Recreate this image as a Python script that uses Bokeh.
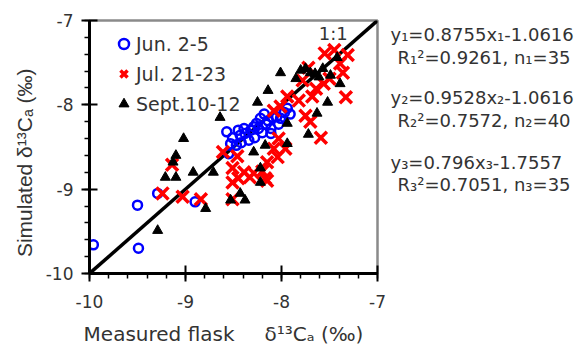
from bokeh.plotting import figure
from bokeh.models import Label, Legend, LegendItem, FixedTicker, Range1d, ColumnDataSource
from bokeh.layouts import row
from bokeh.core.properties import value
from bokeh.embed import file_html
from bokeh.resources import INLINE

# Jun. 2-5 (blue open circles)
jun_x = [-9.96, -9.50, -9.49, -9.29, -8.90,
         -8.57, -8.51, -8.43, -8.38, -8.32, -8.29, -8.26, -8.22, -8.18, -8.24,
         -8.20, -8.34, -8.42, -8.47, -8.14, -8.09, -8.05, -8.01, -7.97, -7.94,
         -7.91, -8.11, -8.16, -8.28, -8.39, -8.45, -8.53, -8.55, -8.11, -8.03]
jun_y = [-9.66, -9.19, -9.70, -9.05, -9.15,
         -8.32, -8.39, -8.36, -8.34, -8.30, -8.26, -8.22, -8.16, -8.11, -8.28,
         -8.33, -8.42, -8.45, -8.48, -8.19, -8.15, -8.14, -8.16, -8.09, -8.04,
         -8.11, -8.28, -8.23, -8.39, -8.28, -8.30, -8.46, -8.58, -8.34, -8.23]

# Jul. 21-23 (red crosses)
jul_x = [-7.55, -7.45, -7.31, -7.39, -7.36, -7.33, -7.56, -7.64, -7.50, -7.72,
         -7.78, -7.68, -7.82, -7.94, -8.01, -8.08, -7.75, -7.70, -7.59, -8.03,
         -8.08, -8.04, -8.15, -8.20, -8.29, -8.39, -8.51, -8.61, -8.46, -8.51,
         -8.15, -8.51, -8.84, -9.03, -9.24, -9.14, -8.45, -8.33, -8.17, -7.96]
jul_y = [-7.39, -7.35, -7.41, -7.51, -7.62, -7.91, -7.75, -7.81, -7.69, -7.56,
         -7.71, -7.90, -7.95, -7.90, -8.02, -8.07, -8.13, -8.20, -8.39, -8.40,
         -8.52, -8.62, -8.68, -8.79, -8.81, -8.80, -8.75, -8.56, -8.61, -8.92,
         -8.90, -9.12, -9.12, -9.09, -9.05, -8.71, -8.87, -8.86, -8.87, -8.52]

# Sept. 10-12 (black triangles)
sep_x = [-9.29, -9.21, -9.10, -9.13, -9.10, -9.02, -8.92, -8.79, -8.71, -8.64,
         -8.53, -8.43, -8.38, -8.29, -8.25, -8.22, -8.22, -8.17, -8.14, -8.01,
         -7.94, -7.94, -7.85, -7.75, -7.70, -7.65, -7.61, -7.63, -7.52, -7.49,
         -7.42, -7.39, -7.57, -7.80, -7.72]
sep_y = [-9.49, -8.86, -8.86, -8.68, -8.60, -8.40, -8.80, -9.23, -8.80, -8.15,
         -9.13, -9.05, -9.13, -8.56, -7.97, -8.75, -8.92, -8.48, -7.83, -7.62,
         -8.22, -8.46, -7.69, -7.57, -7.62, -7.63, -7.67, -8.10, -7.97, -7.65,
         -7.44, -7.75, -7.57, -7.59, -8.35]

one_to_one = [-10.0, -7.0]
ticks = [-10, -9, -8, -7]
tick_labels = ["-10", "-9", "-8", "-7"]
minor = [-10 + 0.2 * i for i in range(16)]

series_labels = ["Jun. 2-5", "Jul. 21-23", "Sept.10-12"]
fit_texts = ["y\u2081=0.8755x\u2081-1.0616", "R\u2081\u00b2=0.9261, n\u2081=35",
             "y\u2082=0.9528x\u2082-1.0616", "R\u2082\u00b2=0.7572, n\u2082=40",
             "y\u2083=0.796x\u2083-1.7557", "R\u2083\u00b2=0.7051, n\u2083=35"]

FONT = "DejaVu Sans"
TXT = "#333333"

p = figure(width=389, height=352, output_backend="svg", toolbar_location=None,
           x_range=Range1d(-10, -7), y_range=Range1d(-10, -7),
           min_border_left=89, min_border_right=12, min_border_top=20,
           min_border_bottom=79)
p.grid.visible = False
p.outline_line_color = "#8a8a8a"
p.outline_line_width = 2.5
p.background_fill_color = "white"
p.border_fill_color = "white"

for ax in (p.xaxis[0], p.yaxis[0]):
    ax.ticker = FixedTicker(ticks=ticks, minor_ticks=minor)
    ax.major_label_overrides = {t: s for t, s in zip(ticks, tick_labels)}
    ax.axis_line_width = 3
    ax.axis_line_color = "black"
    ax.major_tick_line_width = 2
    ax.major_tick_in = 8
    ax.major_tick_out = 8
    ax.minor_tick_in = 0
    ax.minor_tick_out = 5
    ax.minor_tick_line_width = 1.5
    ax.major_label_text_font = FONT
    ax.major_label_text_font_size = "17px"
    ax.major_label_text_color = TXT
    ax.axis_label_text_font_style = "normal"
    ax.axis_label_text_color = TXT

p.xaxis.major_label_standoff = 13
p.yaxis.major_label_standoff = 8
p.xaxis.axis_label = "Measured flask\u2003\u2002\u03b4\u00b9\u00b3C\u2090 (\u2030)\u2003"
p.xaxis.axis_label_text_font = FONT
p.xaxis.axis_label_text_font_size = "20px"
p.yaxis.axis_label = "Simulated \u03b4\u00b9\u00b3C\u2090 (\u2030)\u2003\u2002"
p.yaxis.axis_label_text_font = "Liberation Sans"
p.yaxis.axis_label_text_font_size = "21px"
p.xaxis.axis_label_standoff = 11
p.yaxis.axis_label_standoff = 7

p.line(one_to_one, one_to_one, line_color="black", line_width=3.5)

r_jun = p.scatter(jun_x, jun_y, marker="circle", size=9, fill_alpha=0,
                  line_color="#0000ff", line_width=2.5)
r_jul = p.scatter(jul_x, jul_y, marker="x", size=17, line_color="#ff0000",
                  line_width=3.5)
r_sep = p.scatter(sep_x, sep_y, marker="triangle", size=10, fill_color="black",
                  line_color="black")

legend = Legend(items=[LegendItem(label=series_labels[0], renderers=[r_jun]),
                       LegendItem(label=series_labels[1], renderers=[r_jul]),
                       LegendItem(label=series_labels[2], renderers=[r_sep])],
                location=(22, 157), padding=0, margin=0, spacing=5,
                glyph_height=25, glyph_width=25, label_height=25,
                label_standoff=0,
                label_text_font=FONT, label_text_font_size="19px",
                label_text_color=TXT, background_fill_alpha=0,
                border_line_alpha=0)
p.add_layout(legend)

p.add_layout(Label(x=-7.46, y=-7.15, text="1:1", text_align="center",
                   text_baseline="middle", text_font=FONT,
                   text_font_size="18px", text_color=TXT))

# Side panel with the regression equations (same vertical scale as the plot)
p2 = figure(width=187, height=352, output_backend="svg", toolbar_location=None,
            x_range=Range1d(0, 187), y_range=Range1d(-10.937, -6.762),
            x_axis_location=None, y_axis_location=None, min_border=0)
p2.grid.visible = False
p2.outline_line_color = None
p2.background_fill_color = "white"
p2.border_fill_color = "white"

fit_src = ColumnDataSource(dict(
    text=fit_texts,
    x=[1, 8, 1, 8, 1, 8],
    y=[-7.00, -7.38, -8.04, -8.42, -9.10, -9.47]))
p2.text(x="x", y="y", text="text", source=fit_src, text_align="left",
        text_baseline="middle", text_font=value(FONT),
        text_font_size="18px", text_color=TXT)

layout = row(p, p2, spacing=0)
open("out.html", "w").write(file_html(layout, INLINE))
